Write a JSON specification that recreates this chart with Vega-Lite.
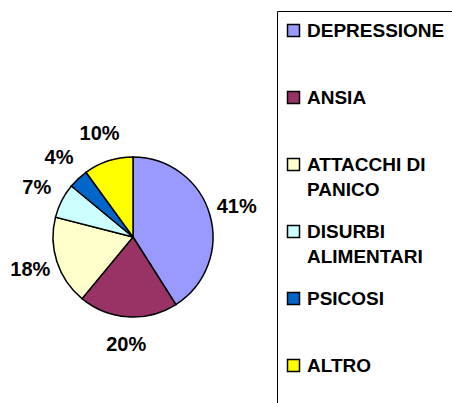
{
  "$schema": "https://vega.github.io/schema/vega-lite/v6.json",
  "width": 266,
  "height": 326,
  "autosize": {"type": "none"},
  "padding": {"left": 0, "top": 74, "right": 186, "bottom": 3},
  "background": "white",
  "data": {
    "values": [
      {"cat": "DEPRESSIONE", "value": 41, "label": "41%", "ord": 1},
      {"cat": "ANSIA", "value": 20, "label": "20%", "ord": 2},
      {"cat": "ATTACCHI DI PANICO", "value": 18, "label": "18%", "ord": 3},
      {"cat": "DISURBI ALIMENTARI", "value": 7, "label": "7%", "ord": 4},
      {"cat": "PSICOSI", "value": 4, "label": "4%", "ord": 5},
      {"cat": "ALTRO", "value": 10, "label": "10%", "ord": 6}
    ]
  },
  "encoding": {
    "theta": {"field": "value", "type": "quantitative", "stack": true},
    "order": {"field": "ord", "type": "quantitative"}
  },
  "layer": [
    {
      "mark": {"type": "arc", "outerRadius": 80, "stroke": "black", "strokeWidth": 1.5},
      "encoding": {
        "color": {
          "field": "cat",
          "type": "nominal",
          "scale": {
            "domain": ["DEPRESSIONE", "ANSIA", "ATTACCHI DI PANICO", "DISURBI ALIMENTARI", "PSICOSI", "ALTRO"],
            "range": ["#9999FF", "#993366", "#FFFFCC", "#CCFFFF", "#0066CC", "#FFFF00"]
          },
          "legend": {
            "orient": "none",
            "legendX": 277,
            "legendY": -63,
            "title": " ",
            "titleOrient": "bottom",
            "titleFontSize": 20,
            "titlePadding": 10,
            "strokeColor": "black",
            "padding": 10,
            "symbolType": "square",
            "symbolSize": 144,
            "symbolOffset": -3,
            "symbolStrokeColor": "black",
            "symbolStrokeWidth": 1.5,
            "symbolOpacity": 1,
            "labelFont": "Liberation Sans",
            "labelFontWeight": "bold",
            "labelFontSize": 19,
            "labelColor": "black",
            "labelOffset": 4,
            "labelLimit": 300,
            "rowPadding": 22,
            "labelExpr": "datum.label == 'ATTACCHI DI PANICO' ? ['ATTACCHI DI', 'PANICO'] : datum.label == 'DISURBI ALIMENTARI' ? ['DISURBI', 'ALIMENTARI'] : [datum.label, '']"
          }
        }
      }
    },
    {
      "mark": {"type": "text", "radius": 108, "font": "Liberation Sans", "fontWeight": "bold", "fontSize": 20, "color": "black"},
      "encoding": {"text": {"field": "label", "type": "nominal"}}
    }
  ],
  "config": {
    "view": {"stroke": null},
    "legend": {"labelFontWeight": "bold"},
    "style": {"guide-label": {"lineHeight": 25, "fontWeight": "bold"}}
  }
}
